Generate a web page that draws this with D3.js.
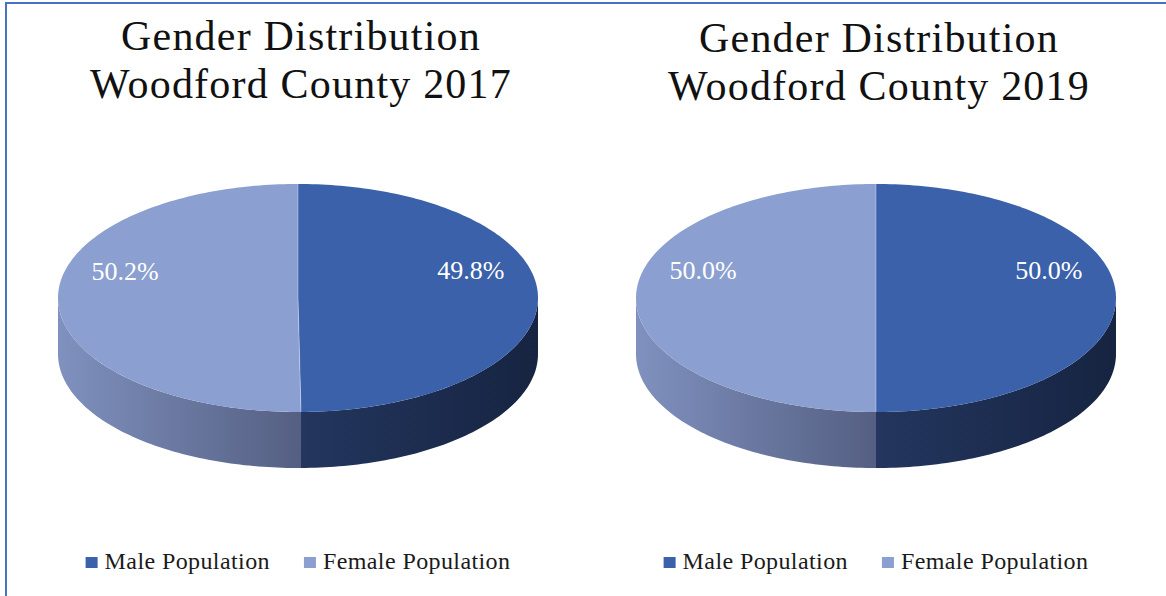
<!DOCTYPE html>
<html>
<head>
<meta charset="utf-8">
<script src="https://cdn.jsdelivr.net/npm/d3@7"></script>
<style>
  body { margin: 0; background: #fff; }
  svg { display: block; }
  text { font-family: "Liberation Serif", "Times New Roman", serif; }
</style>
</head>
<body>
<script>
// chart data
const years = ["2017", "2019"];
const categories = ["Male Population", "Female Population"];
const malePct = [49.8, 50.0];
const femalePct = [50.2, 50.0];
const titleLine1 = "Gender Distribution";
const titleLine2 = "Woodford County";

const width = 1166;
const height = 596;
const rx = 240, ry = 114, depth = 56;
const cy = 298;

const topColor = {"Male Population": "#3a61a9", "Female Population": "#8b9fd0"};
const sideLeft = {"Male Population": "#24365f", "Female Population": "#8091bf"};
const sideRight = {"Male Population": "#162441", "Female Population": "#545f82"};

const svg = d3.select('body').append('svg').attr('width', width).attr('height', height);
const defs = svg.append('defs');

// frame (only top and left edges show)
svg.append('rect').attr('x', 6).attr('y', 3).attr('width', width + 20).attr('height', height + 20)
  .attr('fill', 'none').attr('stroke', '#4472c4').attr('stroke-width', 2);

const panel = d3.scaleBand().domain(years).range([9, width - 1]);
const pie = d3.pie().sort(null).value(d => d.value);
const color = d3.scaleOrdinal().domain(categories).range(categories.map(c => topColor[c]));

// point on the tilted ellipse for a d3 angle (clockwise from 12 o'clock)
const pt = (cx, a, dy = 0) => [cx + rx * Math.sin(a), cy - ry * Math.cos(a) + dy];

function arcPoints(cx, a0, a1, dy) {
  const n = Math.max(2, Math.ceil((a1 - a0) / 0.02));
  return d3.range(n + 1).map(i => pt(cx, a0 + (a1 - a0) * i / n, dy));
}

years.forEach((year, yi) => {
  const cx = panel(year) + panel.bandwidth() / 2;
  const g = svg.append('g');
  const slices = pie([
    {key: categories[0], value: malePct[yi]},
    {key: categories[1], value: femalePct[yi]}
  ]);

  // title
  const title = g.append('text').attr('x', cx + 3).attr('text-anchor', 'middle')
    .attr('font-size', 42).attr('letter-spacing', 1.2).attr('fill', '#111');
  title.append('tspan').attr('x', cx + 3).attr('y', 50 + yi * 2).text(titleLine1);
  title.append('tspan').attr('x', cx + 3).attr('y', 98 + yi * 2).text(titleLine2 + ' ' + year);

  // sides (front half only)
  slices.forEach((s, i) => {
    const s0 = Math.max(s.startAngle, Math.PI / 2);
    const s1 = Math.min(s.endAngle, 3 * Math.PI / 2);
    if (s0 >= s1) return;
    const upper = arcPoints(cx, s0, s1, 0);
    const lower = arcPoints(cx, s0, s1, depth).reverse();
    const xs = upper.map(p => p[0]);
    const id = 'side-' + year + '-' + i;
    const grad = defs.append('linearGradient').attr('id', id)
      .attr('gradientUnits', 'userSpaceOnUse')
      .attr('x1', d3.min(xs)).attr('x2', d3.max(xs)).attr('y1', 0).attr('y2', 0);
    grad.append('stop').attr('offset', 0).attr('stop-color', sideLeft[s.data.key]);
    grad.append('stop').attr('offset', 1).attr('stop-color', sideRight[s.data.key]);
    g.append('path').attr('d', d3.line()(upper.concat(lower)) + 'Z').attr('fill', 'url(#' + id + ')');
  });

  // top faces
  g.selectAll('path.top').data(slices).enter().append('path').attr('class', 'top')
    .attr('d', s => d3.line()([[cx, cy]].concat(arcPoints(cx, s.startAngle, s.endAngle, 0))) + 'Z')
    .attr('fill', s => color(s.data.key));

  // light split lines
  g.selectAll('line.split').data(slices).enter().append('line').attr('class', 'split')
    .attr('x1', cx).attr('y1', cy)
    .attr('x2', s => pt(cx, s.startAngle)[0]).attr('y2', s => pt(cx, s.startAngle)[1])
    .attr('stroke', '#fff').attr('stroke-opacity', 0.35).attr('stroke-width', 1);

  // percentage labels
  g.selectAll('text.lbl').data(slices).enter().append('text').attr('class', 'lbl')
    .attr('x', s => cx + 0.72 * rx * Math.sin((s.startAngle + s.endAngle) / 2))
    .attr('y', s => cy - 0.72 * ry * Math.cos((s.startAngle + s.endAngle) / 2) - 28)
    .attr('dy', '0.35em').attr('text-anchor', 'middle')
    .attr('font-size', 26).attr('fill', '#fff')
    .text(s => s.data.value.toFixed(1) + '%');

  // legend
  const leg = g.append('g');
  let x = 0;
  categories.forEach((c, i) => {
    const item = leg.append('g').attr('transform', 'translate(' + x + ',0)');
    item.append('rect').attr('x', 0).attr('y', 557).attr('width', 12).attr('height', 11).attr('fill', color(c));
    const t = item.append('text').attr('x', 19).attr('y', 569).attr('font-size', 24)
      .attr('letter-spacing', 0.4).attr('fill', '#1a1a1a').text(c);
    x += 19 + t.node().getComputedTextLength() + 34;
  });
  const total = x - 34;
  leg.attr('transform', 'translate(' + (cx - total / 2) + ',0)');
});
</script>
</body>
</html>
